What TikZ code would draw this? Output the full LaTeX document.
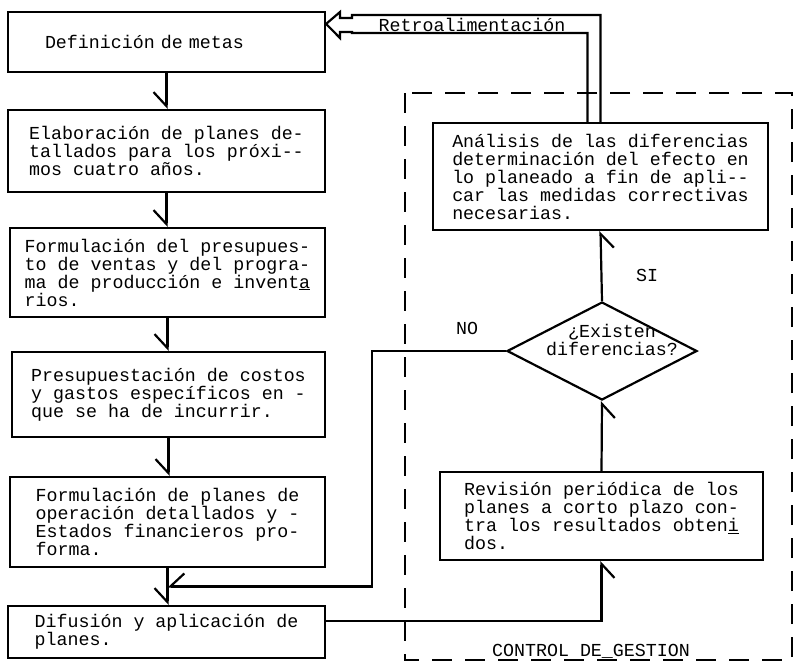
\documentclass[tikz,border=0pt]{standalone}
\usepackage{fontspec}
\setmainfont{Liberation Mono}[Ligatures=NoCommon]
\usetikzlibrary{arrows.meta,shapes.geometric,calc}
\begin{document}
\begin{tikzpicture}[x=1pt,y=-1pt,
  every node/.style={font=\fontsize{18.3}{18}\selectfont},
  box/.style={draw,line width=2.2pt,align=left,inner sep=0pt},
  decision/.style={draw,diamond,line width=2.2pt,inner sep=0pt,minimum width=190pt,minimum height=98pt},
  conn/.style={line width=2.2pt,-{Straight Barb[harpoon,swap,length=14pt,width=26pt]}},
  plain/.style={line width=2.2pt},
  ctrl/.style={draw,dash pattern=on 20pt off 13pt,line width=2.5pt},
  lbl/.style={inner sep=1pt}]
\useasboundingbox (0,0) rectangle (797,662);

% control region
\draw[ctrl] (405,93) rectangle (792,660);
\node[lbl,fill=white] (ctl) at (591,651) {CONTROL DE\_GESTION};

% left column
\node[box,minimum width=317pt,minimum height=60pt,text width=243pt,inner xsep=37pt] (b1) at (166.5,42) {Definición de metas};
\node[box,minimum width=317pt,minimum height=82pt] (b2) at (166.5,151) {Elaboración de planes de-\\tallados para los próxi-{}-\\mos cuatro años.};
\node[box,minimum width=315pt,minimum height=89pt] (b3) at (167.5,272.5) {Formulación del presupues-\\to de ventas y del progra-\\ma de producción e invent\underline{a}\\rios.};
\node[box,minimum width=313pt,minimum height=85pt] (b4) at (168.5,394.5) {Presupuestación de costos\\y gastos específicos en -\\que se ha de incurrir.};
\node[box,minimum width=315pt,minimum height=90pt] (b5) at (167.5,522) {Formulación de planes de\\operación detallados y -\\Estados financieros pro-\\forma.};
\node[box,minimum width=317pt,minimum height=52pt] (b6) at (166.5,632) {Difusión y aplicación de\\planes.};

% right column
\node[box,minimum width=335pt,minimum height=107pt] (ana) at (600.5,176.5) {Análisis de las diferencias\\determinación del efecto en\\lo planeado a fin de apli-{}-\\car las medidas correctivas\\necesarias.};
\node[decision] (dec) at (602,351) {};
\node[lbl,align=center] (dectext) at (612,340) {¿Existen\\diferencias?};
\node[box,minimum width=323pt,minimum height=88pt] (rev) at (601.5,516) {Revisión periódica de los\\planes a corto plazo con-\\tra los resultados obten\underline{i}\\dos.};

% labels
\node[lbl] (si) at (647,275) {SI};
\node[lbl] (no) at (467,328) {NO};
\node[lbl] (fb) at (472,25) {Retroalimentación};

% connectors
\draw[conn] (b1.south) -- (b1.south |- b2.north);
\draw[conn] (b2.south) -- (b2.south |- b3.north);
\draw[conn] (b3.south) -- (b3.south |- b4.north);
\draw[conn] (b4.south) -- (b4.south |- b5.north);
\draw[conn] (b5.south) -- (b5.south |- b6.north);
\coordinate (join) at ($(b5.south)!0.5!(b5.south |- b6.north)$);
\coordinate (nocorner) at ([xshift=-134pt]dec.west);
\draw[conn] (dec.west) -- (nocorner) |- (join);
\draw[conn] (dec.north) -- (ana.south);
\draw[conn] (rev.north) -- (dec.south);
\coordinate (revin) at ([yshift=11pt]b6.east);
\draw[conn] (revin) -| (rev.south);

% feedback double-line arrow
\coordinate (fbtop) at (0,15);
\coordinate (fbbot) at (0,33);
\coordinate (fbtip) at ($(b1.north east)+(0,13)$);
\coordinate (fbin) at ([xshift=-13pt]ana.north);
\draw[plain,line join=miter] (ana.north) -- (ana.north |- fbtop) -- (352,15) -- (352,18) -- (340,18) -- (340,12) -- (fbtip) -- (340,38) -- (340,32) -- (352,32) -- (352,33) -- (fbin |- fbbot) -- (fbin);
\end{tikzpicture}
\end{document}
